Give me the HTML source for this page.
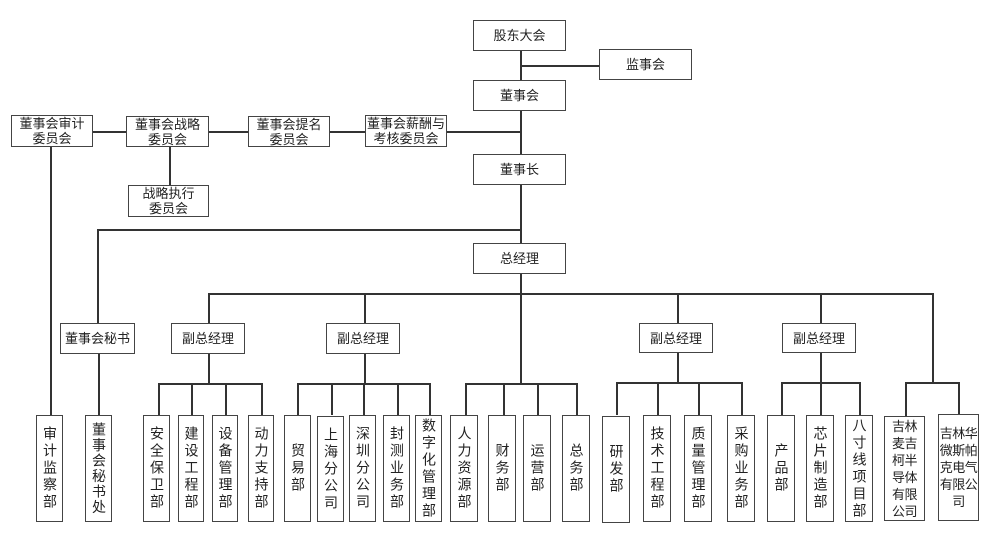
<!DOCTYPE html>
<html><head><meta charset="utf-8"><style>
body{margin:0;background:#fff;}
#c{position:relative;width:1000px;height:541px;overflow:hidden;background:#fff;font-family:"Liberation Sans","Noto Sans CJK SC",sans-serif;color:#222;}
.b{position:absolute;box-sizing:border-box;border:1.5px solid #444;background:#fff;display:flex;align-items:center;justify-content:center;text-align:center;font-size:13px;line-height:15px;white-space:nowrap;overflow:visible;}
.v{writing-mode:vertical-rl;font-size:14px;letter-spacing:3px;}
.v6{letter-spacing:1.5px;}
.g{font-size:13px;line-height:17px;letter-spacing:-0.5px;}
.h{position:absolute;height:1.5px;background:#333;}
.w{position:absolute;width:1.5px;background:#333;}
</style></head><body><div id="c">
<div class="w" style="left:520px;top:51px;height:223px"></div>
<div class="h" style="left:520px;top:65px;width:79px"></div>
<div class="h" style="left:93px;top:131px;width:427px"></div>
<div class="w" style="left:169px;top:147px;height:38px"></div>
<div class="w" style="left:50px;top:147px;height:268px"></div>
<div class="h" style="left:97px;top:229px;width:423px"></div>
<div class="w" style="left:97px;top:229px;height:94px"></div>
<div class="w" style="left:98px;top:354px;height:61px"></div>
<div class="w" style="left:520px;top:274px;height:109px"></div>
<div class="h" style="left:208px;top:293px;width:724px"></div>
<div class="w" style="left:208px;top:293px;height:30px"></div>
<div class="w" style="left:364px;top:293px;height:30px"></div>
<div class="w" style="left:677px;top:293px;height:30px"></div>
<div class="w" style="left:820px;top:293px;height:30px"></div>
<div class="w" style="left:932px;top:293px;height:90px"></div>
<div class="w" style="left:208px;top:354px;height:29px"></div>
<div class="w" style="left:364px;top:354px;height:29px"></div>
<div class="w" style="left:677px;top:353px;height:29px"></div>
<div class="w" style="left:820px;top:353px;height:29px"></div>
<div class="h" style="left:158px;top:383px;width:104px"></div>
<div class="h" style="left:297px;top:383px;width:134px"></div>
<div class="h" style="left:465px;top:383px;width:112px"></div>
<div class="h" style="left:616px;top:382px;width:127px"></div>
<div class="h" style="left:781px;top:382px;width:80px"></div>
<div class="h" style="left:905px;top:382px;width:54px"></div>
<div class="w" style="left:158px;top:383px;height:32px"></div>
<div class="w" style="left:191px;top:383px;height:32px"></div>
<div class="w" style="left:225px;top:383px;height:32px"></div>
<div class="w" style="left:261px;top:383px;height:32px"></div>
<div class="w" style="left:297px;top:383px;height:32px"></div>
<div class="w" style="left:331px;top:383px;height:32px"></div>
<div class="w" style="left:363px;top:383px;height:32px"></div>
<div class="w" style="left:397px;top:383px;height:32px"></div>
<div class="w" style="left:429px;top:383px;height:32px"></div>
<div class="w" style="left:465px;top:383px;height:32px"></div>
<div class="w" style="left:503px;top:383px;height:32px"></div>
<div class="w" style="left:537px;top:383px;height:32px"></div>
<div class="w" style="left:576px;top:383px;height:32px"></div>
<div class="w" style="left:616px;top:382px;height:33px"></div>
<div class="w" style="left:657px;top:382px;height:33px"></div>
<div class="w" style="left:698px;top:382px;height:33px"></div>
<div class="w" style="left:741px;top:382px;height:33px"></div>
<div class="w" style="left:781px;top:382px;height:33px"></div>
<div class="w" style="left:820px;top:382px;height:33px"></div>
<div class="w" style="left:859px;top:382px;height:33px"></div>
<div class="w" style="left:905px;top:382px;height:34px"></div>
<div class="w" style="left:958px;top:382px;height:32px"></div>
<div class="b" style="left:473px;top:20px;width:93px;height:31px">股东大会</div>
<div class="b" style="left:599px;top:49px;width:93px;height:31px">监事会</div>
<div class="b" style="left:473px;top:80px;width:93px;height:31px">董事会</div>
<div class="b" style="left:473px;top:154px;width:93px;height:31px">董事长</div>
<div class="b" style="left:473px;top:243px;width:93px;height:31px">总经理</div>
<div class="b" style="left:11px;top:115px;width:82px;height:32px">董事会审计<br>委员会</div>
<div class="b" style="left:126px;top:116px;width:83px;height:31px">董事会战略<br>委员会</div>
<div class="b" style="left:248px;top:116px;width:82px;height:31px">董事会提名<br>委员会</div>
<div class="b" style="left:365px;top:115px;width:82px;height:32px">董事会薪酬与<br>考核委员会</div>
<div class="b" style="left:128px;top:185px;width:81px;height:32px">战略执行<br>委员会</div>
<div class="b" style="left:60px;top:323px;width:75px;height:31px">董事会秘书</div>
<div class="b" style="left:171px;top:323px;width:74px;height:31px">副总经理</div>
<div class="b" style="left:326px;top:323px;width:74px;height:31px">副总经理</div>
<div class="b" style="left:639px;top:323px;width:74px;height:30px">副总经理</div>
<div class="b" style="left:782px;top:323px;width:74px;height:30px">副总经理</div>
<div class="b v" style="left:36px;top:415px;width:27px;height:107px">审计监察部</div>
<div class="b v v6" style="left:85px;top:415px;width:27px;height:107px">董事会秘书处</div>
<div class="b v" style="left:143px;top:415px;width:27px;height:107px">安全保卫部</div>
<div class="b v" style="left:178px;top:415px;width:26px;height:107px">建设工程部</div>
<div class="b v" style="left:212px;top:415px;width:26px;height:107px">设备管理部</div>
<div class="b v" style="left:248px;top:415px;width:26px;height:107px">动力支持部</div>
<div class="b v" style="left:284px;top:415px;width:27px;height:107px">贸易部</div>
<div class="b v" style="left:317px;top:416px;width:27px;height:106px">上海分公司</div>
<div class="b v" style="left:349px;top:415px;width:27px;height:107px">深圳分公司</div>
<div class="b v" style="left:383px;top:415px;width:27px;height:107px">封测业务部</div>
<div class="b v" style="left:415px;top:415px;width:27px;height:107px">数字化管理部</div>
<div class="b v" style="left:450px;top:415px;width:28px;height:107px">人力资源部</div>
<div class="b v" style="left:488px;top:415px;width:28px;height:107px">财务部</div>
<div class="b v" style="left:523px;top:415px;width:28px;height:107px">运营部</div>
<div class="b v" style="left:562px;top:415px;width:28px;height:107px">总务部</div>
<div class="b v" style="left:602px;top:416px;width:28px;height:107px">研发部</div>
<div class="b v" style="left:643px;top:415px;width:28px;height:107px">技术工程部</div>
<div class="b v" style="left:684px;top:415px;width:28px;height:107px">质量管理部</div>
<div class="b v" style="left:727px;top:415px;width:28px;height:107px">采购业务部</div>
<div class="b v" style="left:767px;top:415px;width:28px;height:107px">产品部</div>
<div class="b v" style="left:806px;top:415px;width:28px;height:107px">芯片制造部</div>
<div class="b v" style="left:845px;top:415px;width:28px;height:107px">八寸线项目部</div>
<div class="b g" style="left:884px;top:416px;width:41px;height:105px">吉林<br>麦吉<br>柯半<br>导体<br>有限<br>公司</div>
<div class="b g" style="left:938px;top:414px;width:41px;height:107px">吉林华<br>微斯帕<br>克电气<br>有限公<br>司</div>
</div></body></html>
